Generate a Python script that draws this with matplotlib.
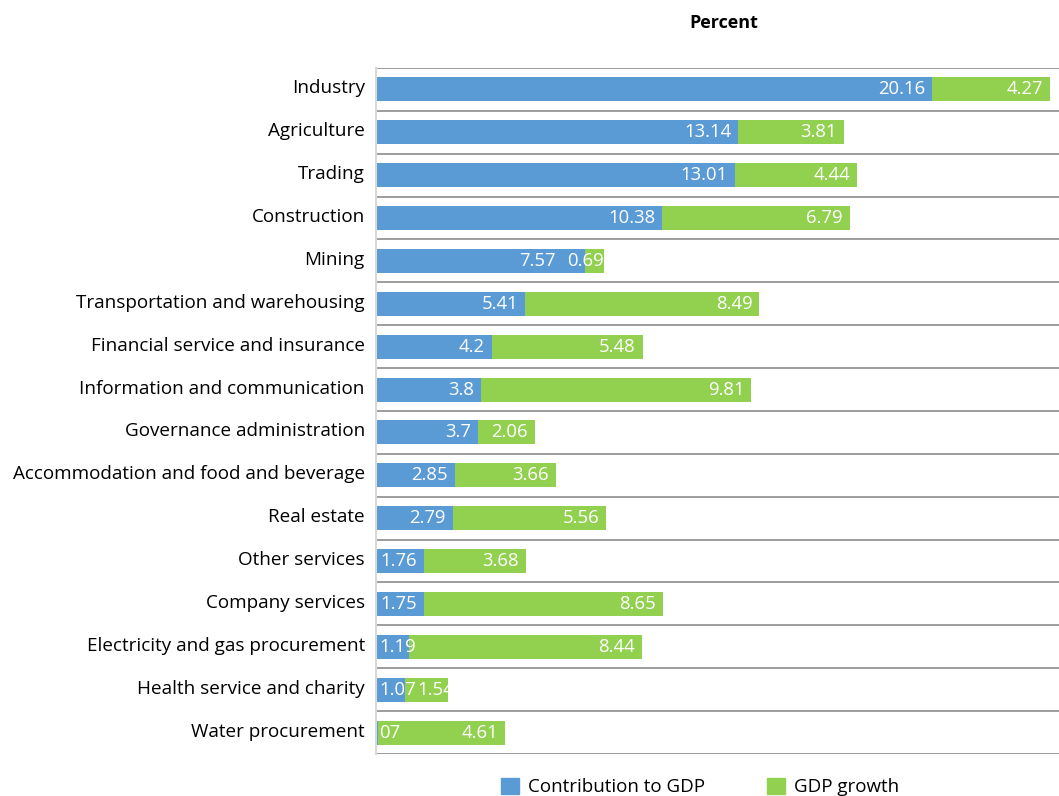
import matplotlib.pyplot as plt
import matplotlib.transforms as mtransforms
from matplotlib.patches import Patch

plt.rcParams['font.family'] = ['Open Sans', 'DejaVu Sans']

sectors = [
    "Industry", "Agriculture", "Trading", "Construction", "Mining",
    "Transportation and warehousing", "Financial service and insurance",
    "Information and communication", "Governance administration",
    "Accommodation and food and beverage", "Real estate", "Other services",
    "Company services", "Electricity and gas procurement",
    "Health service and charity", "Water procurement",
]
contribution = [20.16, 13.14, 13.01, 10.38, 7.57, 5.41, 4.2, 3.8, 3.7,
                2.85, 2.79, 1.76, 1.75, 1.19, 1.07, 0.07]
growth = [4.27, 3.81, 4.44, 6.79, 0.69, 8.49, 5.48, 9.81, 2.06,
          3.66, 5.56, 3.68, 8.65, 8.44, 1.54, 4.61]
contribution_labels = [f"{v:g}" for v in contribution[:-1]] + ["07"]
growth_labels = [f"{v:g}" for v in growth]

blue = '#5b9bd5'
green = '#92d050'

fig = plt.figure(figsize=(10.59, 7.96), dpi=100)
ax = fig.add_axes([0.355, 0.0528, 0.645, 0.8618])

y = list(range(len(sectors)))
ax.barh(y, contribution, height=0.56, color=blue)
ax.barh(y, growth, left=contribution, height=0.56, color=green)

ax.set_ylim(len(sectors) - 0.5, -0.5)
ax.set_xlim(0, 24.76)

# separators between rows
for b in range(len(sectors) + 1):
    ax.axhline(b - 0.5, color='#8c8c8c', lw=1.2, zorder=0)

ax.set_yticks(y)
ax.set_yticklabels(sectors, fontsize=13.6)
ax.tick_params(axis='y', length=0, pad=8)
ax.set_xticks([])
for s in ['top', 'right', 'bottom']:
    ax.spines[s].set_visible(False)
ax.spines['left'].set_color('#d9d9d9')
ax.spines['left'].set_linewidth(1.5)

# nudge category labels up a little
shift = mtransforms.ScaledTranslation(0, 3 / 100, fig.dpi_scale_trans)
for lbl in ax.get_yticklabels():
    lbl.set_transform(lbl.get_transform() + shift)

# value labels: right end of each segment, kept inside the plot and apart
renderer = fig.canvas.get_renderer()
x0_px = ax.transData.transform((0, 0))[0]
for i, (c, g) in enumerate(zip(contribution, growth)):
    c_px = ax.transData.transform((c, i))[0]
    e_px = ax.transData.transform((c + g, i))[0]

    gt = ax.annotate(growth_labels[i], (c + g, i), xytext=(-7, 0),
                     textcoords='offset pixels', ha='right', va='center',
                     color='white', fontsize=13.3)
    gw = gt.get_window_extent(renderer).width
    narrow = gw + 14 > e_px - c_px
    g_off = 0 if narrow else -7
    g_left = e_px + g_off - gw

    bt = ax.annotate(contribution_labels[i], (c, i), xytext=(-7, 0),
                     textcoords='offset pixels', ha='right', va='center',
                     color='white', fontsize=13.3)
    bw = bt.get_window_extent(renderer).width
    right = c_px - 7
    if narrow and right > g_left - 12:
        right = g_left - 12
    if right - bw < x0_px + 3:
        right = x0_px + 3 + bw
    bt.set_position((right - c_px, 0))

    # push the growth label right if the clamped contribution label runs into it
    if right + 2 > g_left:
        g_off += right + 2 - g_left
    gt.set_position((g_off, 0))

fig.text(724 / 1059, 1 - 23 / 796, "Percent", ha='center', va='center',
         fontsize=13, fontweight='bold')

handles = [Patch(color=blue, label='Contribution to GDP'),
           Patch(color=green, label='GDP growth')]
fig.legend(handles=handles, loc='center', bbox_to_anchor=(700 / 1059, 1 - 787 / 796),
           ncol=2, frameon=False, fontsize=13.5, handlelength=0.95, handleheight=0.95,
           handletextpad=0.5, columnspacing=3.3, borderaxespad=0)

fig.savefig('out.png', dpi=100)
